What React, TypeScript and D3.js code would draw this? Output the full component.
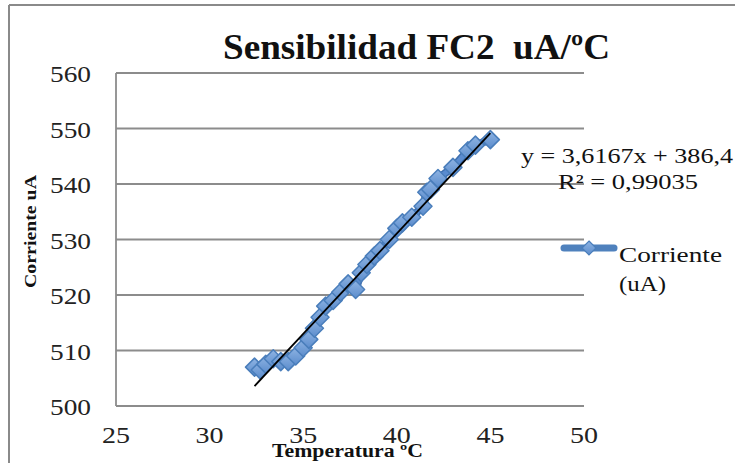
import React from "react";
import * as d3 from "d3";

const temps = [32.4, 32.7, 33.0, 33.4, 33.8, 34.2, 34.6, 35.0, 35.3, 35.6, 35.9, 36.2, 36.6, 37.0, 37.4, 37.8, 38.1, 38.4, 38.8, 39.1, 39.6, 40.0, 40.3, 40.8, 41.4, 41.6, 41.8, 42.2, 43.0, 43.8, 44.2, 45.0];
const currents = [507, 506.5, 507.5, 508.5, 508, 508, 509, 510.5, 512, 514, 516, 518, 519, 520.5, 522, 521, 524, 525.5, 527, 528, 530, 532, 533, 534, 536, 538.5, 539, 541, 543, 546, 547, 548];
const xTicks = [25, 30, 35, 40, 45, 50];
const yTicks = [500, 510, 520, 530, 540, 550, 560];
const slope = 3.6167;
const intercept = 386.4;
const title = "Sensibilidad FC2  uA/ºC";
const xTitle = "Temperatura ºC";
const yTitle = "Corriente uA";
const eqText = "y = 3,6167x + 386,4";
const r2Text = "R² = 0,99035";
const legendLines = ["Corriente", "(uA)"];

const W = 735, H = 463;
const L = 116, R = 584, T = 73, B = 406;
const serif = "'Liberation Serif', 'DejaVu Serif', serif";
const adj = "spacingAndGlyphs";

export default function App() {
  const x = d3.scaleLinear().domain([25, 50]).range([L, R]);
  const y = d3.scaleLinear().domain([500, 560]).range([B, T]);
  const pts = temps.map((t, i) => [t, currents[i]] as [number, number]);
  const line = d3.line<[number, number]>().x(d => x(d[0])).y(d => y(d[1]));
  const tx0 = d3.min(temps)!, tx1 = d3.max(temps)!;
  const diamond = (cx: number, cy: number, r: number) =>
    `M${cx},${cy - r}L${cx + r},${cy}L${cx},${cy + r}L${cx - r},${cy}Z`;
  return (
    <svg width={W} height={H} style={{ position: "absolute", left: 0, top: 0, background: "#fff" }}>
      <defs>
        <linearGradient id="mk" x1="0" y1="0" x2="0" y2="1">
          <stop offset="0" stopColor="#8fb4e3" />
          <stop offset="1" stopColor="#5b8ccc" />
        </linearGradient>
      </defs>
      <line x1={9} y1={5} x2={W} y2={5} stroke="#8a8a8a" strokeWidth={2} />
      <line x1={9} y1={5} x2={9} y2={H} stroke="#8a8a8a" strokeWidth={2} />
      {yTicks.map(v => (
        <g key={v}>
          {v > 500 && <line x1={L} x2={R} y1={y(v)} y2={y(v)} stroke="#8c8c8c" strokeWidth={1.8} />}
          <text x={91} y={y(v) + 9} textAnchor="end" fontFamily={serif} fontSize={24} fill="#222" textLength={41} lengthAdjust={adj}>{v}</text>
        </g>
      ))}
      <line x1={L} x2={L} y1={T} y2={B} stroke="#8c8c8c" strokeWidth={1.8} />
      <line x1={L} x2={R} y1={B} y2={B} stroke="#8c8c8c" strokeWidth={1.8} />
      {xTicks.map(v => (
        <text key={v} x={x(v) - 14} y={443} fontFamily={serif} fontSize={24} fill="#222" textLength={28} lengthAdjust={adj}>{v}</text>
      ))}
      <path d={line(pts)!} fill="none" stroke="#3f6fae" strokeWidth={8} strokeLinejoin="round" strokeLinecap="round" />
      <path d={line(pts)!} fill="none" stroke="#5a8cd0" strokeWidth={5} strokeLinejoin="round" strokeLinecap="round" />
      {pts.map((p, i) => (
        <path key={i} d={diamond(x(p[0]), y(p[1]), 9)} fill="url(#mk)" stroke="#4a7ebb" strokeWidth={1.5} strokeLinejoin="round" />
      ))}
      <line x1={x(tx0)} y1={y(slope * tx0 + intercept)} x2={x(tx1)} y2={y(slope * tx1 + intercept)} stroke="#000" strokeWidth={1.8} />
      <text x={223} y={59} fontFamily={serif} fontWeight="bold" fontSize={36} fill="#111" textLength={387} lengthAdjust={adj} style={{ whiteSpace: "pre" }}>{title}</text>
      <text x={272} y={457} fontFamily={serif} fontWeight="bold" fontSize={18} fill="#111" textLength={151} lengthAdjust={adj}>{xTitle}</text>
      <text transform={`translate(36,288) rotate(-90)`} fontFamily={serif} fontWeight="bold" fontSize={17} fill="#111" textLength={113} lengthAdjust={adj}>{yTitle}</text>
      <text x={521} y={163} fontFamily={serif} fontSize={21} fill="#111" textLength={212} lengthAdjust={adj}>{eqText}</text>
      <text x={558} y={189} fontFamily={serif} fontSize={21} fill="#111" textLength={140} lengthAdjust={adj}>{r2Text}</text>
      <line x1={564} x2={614} y1={248} y2={248} stroke="#4f81bd" strokeWidth={7} strokeLinecap="round" />
      <path d={diamond(589, 248, 7)} fill="url(#mk)" stroke="#4a7ebb" strokeWidth={1.2} />
      <text x={619} y={262} fontFamily={serif} fontSize={22} fill="#111" textLength={103} lengthAdjust={adj}>{legendLines[0]}</text>
      <text x={619} y={291} fontFamily={serif} fontSize={22} fill="#111" textLength={47} lengthAdjust={adj}>{legendLines[1]}</text>
    </svg>
  );
}
